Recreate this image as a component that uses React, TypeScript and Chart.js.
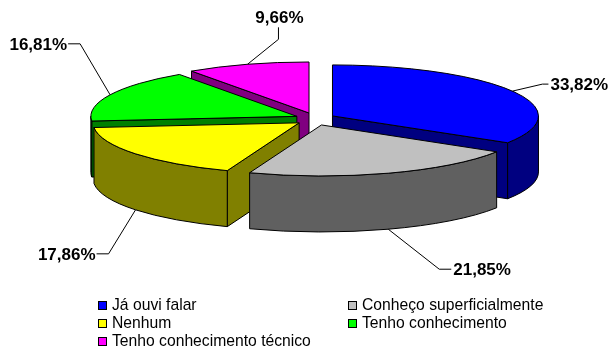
import { useEffect, useRef } from 'react';
import { Chart, registerables } from 'chart.js';

Chart.register(...registerables);

// ---- data ----
const categories = [
  'Já ouvi falar',
  'Conheço superficialmente',
  'Nenhum',
  'Tenho conhecimento',
  'Tenho conhecimento técnico',
];
const values = [33.82, 21.85, 17.86, 16.81, 9.66];
const topColors = ['#0000FF', '#C0C0C0', '#FFFF00', '#00FF00', '#FF00FF'];
const sideColors = ['#000080', '#606060', '#808000', '#008000', '#800080'];

// ---- style / layout ----
const FONT = '"Liberation Sans", Arial, Helvetica, sans-serif';
const RX = 206;
const RY_RATIO = 51 / 206;
const DEPTH = 56;
const EX = 20;
const EY = 6.3;
// leader layout per label: elbow offset from anchor, tail vector, text alignment
const labelLayout = [
  { elbow: [30, -7], tail: [6, 0], align: 'left' },
  { elbow: [51, 40], tail: [12, 0], align: 'left' },
  { elbow: [-27, 44], tail: [-12, 0], align: 'right' },
  { elbow: [-30, -51], tail: [-12, 0], align: 'right' },
  { elbow: [31, -25], tail: [0, -12], align: 'center' },
];
const legendCols = [98, 348];
const legendRows = [305, 323, 341];

const fmt = (v: number) => v.toFixed(2).replace('.', ',') + '%';

const pie3d = {
  id: 'pie3d',
  beforeDatasetsDraw(chart: any) {
    const ctx: CanvasRenderingContext2D = chart.ctx;
    const meta = chart.getDatasetMeta(0);
    const arcs: any[] = meta.data;
    const geo = arcs.map((arc, i) => {
      const p = arc.getProps(['x', 'y', 'startAngle', 'endAngle', 'outerRadius'], true);
      const mid = (p.startAngle + p.endAngle) / 2;
      const R = p.outerRadius;
      return {
        i,
        s: p.startAngle,
        e: p.endAngle,
        mid,
        ax: p.x + EX * Math.cos(mid),
        ay: p.y + EY * Math.sin(mid),
        R,
        r: R * RY_RATIO,
        top: arc.options.backgroundColor,
        side: sideColors[i],
      };
    });
    const order = [...geo].sort((a, b) => Math.sin(a.mid) - Math.sin(b.mid));
    ctx.save();
    ctx.lineWidth = 1;
    ctx.strokeStyle = '#000';
    ctx.lineJoin = 'round';
    for (const g of order) {
      const pt = (a: number, dz = 0): [number, number] => [g.ax + g.R * Math.cos(a), g.ay + g.r * Math.sin(a) + dz];
      const radial = (a: number) => {
        const o = pt(a);
        ctx.beginPath();
        ctx.moveTo(g.ax, g.ay);
        ctx.lineTo(o[0], o[1]);
        ctx.lineTo(o[0], o[1] + DEPTH);
        ctx.lineTo(g.ax, g.ay + DEPTH);
        ctx.closePath();
        ctx.fillStyle = g.side;
        ctx.fill();
        ctx.stroke();
      };
      if (Math.cos(g.s) < -1e-6) radial(g.s);
      if (Math.cos(g.e) > 1e-6) radial(g.e);
      const lo = Math.max(g.s, 0);
      const hi = Math.min(g.e, Math.PI);
      if (hi > lo) {
        const h = pt(hi, DEPTH);
        ctx.beginPath();
        ctx.ellipse(g.ax, g.ay, g.R, g.r, 0, lo, hi, false);
        ctx.lineTo(h[0], h[1]);
        ctx.ellipse(g.ax, g.ay + DEPTH, g.R, g.r, 0, hi, lo, true);
        ctx.closePath();
        ctx.fillStyle = g.side;
        ctx.fill();
        ctx.stroke();
      }
      ctx.beginPath();
      ctx.moveTo(g.ax, g.ay);
      ctx.ellipse(g.ax, g.ay, g.R, g.r, 0, g.s, g.e, false);
      ctx.closePath();
      ctx.fillStyle = g.top;
      ctx.fill();
      ctx.stroke();
    }
    // data labels
    ctx.font = 'bold 17px ' + FONT;
    ctx.fillStyle = '#000';
    for (const g of geo) {
      const L = labelLayout[g.i];
      const front = Math.sin(g.mid) > 0;
      const anchor: [number, number] = [
        g.ax + g.R * Math.cos(g.mid),
        g.ay + g.r * Math.sin(g.mid) + (front ? DEPTH : 0),
      ];
      const elbow = [anchor[0] + L.elbow[0], anchor[1] + L.elbow[1]];
      const end = [elbow[0] + L.tail[0], elbow[1] + L.tail[1]];
      ctx.beginPath();
      ctx.moveTo(anchor[0], anchor[1]);
      ctx.lineTo(elbow[0], elbow[1]);
      ctx.lineTo(end[0], end[1]);
      ctx.strokeStyle = '#000';
      ctx.stroke();
      const txt = fmt(values[g.i]);
      if (L.align === 'center') {
        ctx.textAlign = 'center';
        ctx.textBaseline = 'alphabetic';
        ctx.fillText(txt, end[0] + 1, end[1] - 4);
      } else {
        ctx.textAlign = L.align as CanvasTextAlign;
        ctx.textBaseline = 'middle';
        ctx.fillText(txt, end[0] + (L.align === 'left' ? 2 : -1), end[1] + 1);
      }
    }
    ctx.restore();
    return false;
  },
};

export default function App() {
  const ref = useRef<HTMLCanvasElement>(null);
  useEffect(() => {
    const chart = new Chart(ref.current as HTMLCanvasElement, {
      type: 'pie',
      data: {
        labels: categories,
        datasets: [
          {
            data: values,
            backgroundColor: topColors,
            borderColor: '#000',
            borderWidth: 1,
          },
        ],
      },
      options: {
        responsive: false,
        animation: false,
        radius: RX,
        events: [],
        layout: { padding: { left: 20, right: 0, top: 0, bottom: 113 } },
        plugins: { legend: { display: false }, tooltip: { enabled: false } },
      } as any,
      plugins: [pie3d as any],
    });
    return () => chart.destroy();
  }, []);

  return (
    <div
      style={{
        position: 'absolute',
        left: 0,
        top: 0,
        width: 610,
        height: 351,
        background: '#fff',
        overflow: 'hidden',
        fontFamily: FONT,
      }}
    >
      <canvas ref={ref} width={610} height={351} style={{ display: 'block', width: 610, height: 351 }} />
      {categories.map((c, i) => {
        const col = i % 2;
        const row = Math.floor(i / 2);
        return (
          <div
            key={c}
            style={{
              position: 'absolute',
              left: legendCols[col],
              top: legendRows[row] - 9,
              height: 18,
              display: 'flex',
              alignItems: 'center',
              whiteSpace: 'nowrap',
              fontSize: 15.7,
              color: '#000',
              lineHeight: '18px',
            }}
          >
            <span
              style={{
                display: 'inline-block',
                width: 9,
                height: 9,
                boxSizing: 'border-box',
                border: '1px solid #000',
                background: topColors[i],
                marginRight: 5,
              }}
            />
            <span>{c}</span>
          </div>
        );
      })}
    </div>
  );
}
